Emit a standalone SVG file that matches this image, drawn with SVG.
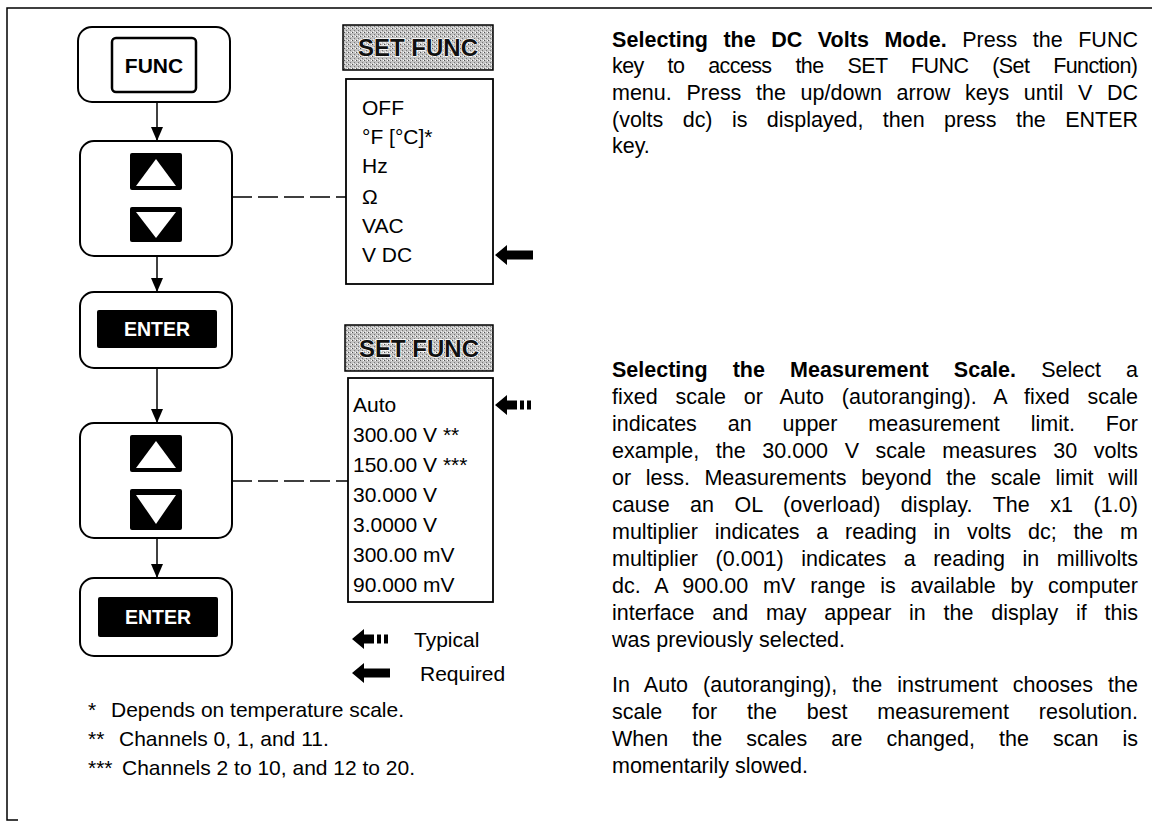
<svg xmlns="http://www.w3.org/2000/svg" width="1152" height="824" viewBox="0 0 1152 824">
<defs>
<pattern id="stip" width="4" height="4" patternUnits="userSpaceOnUse">
<rect width="4" height="4" fill="#c2c2c2"/>
<rect x="0" y="0" width="1" height="1" fill="#555"/>
<rect x="2" y="2" width="1" height="1" fill="#777"/>
<rect x="3" y="0" width="1" height="1" fill="#fff"/>
<rect x="1" y="3" width="1" height="1" fill="#eee"/>
</pattern>
<marker id="ah" markerWidth="14" markerHeight="12" refX="14" refY="6" orient="auto" markerUnits="userSpaceOnUse" viewBox="0 0 14 12">
<path d="M0,0 L14,6 L0,12 Z" fill="#000"/>
</marker>
<symbol id="reqArrow" viewBox="0 0 38 20" overflow="visible">
<path d="M0,10 L12,0 L12,5.5 L38,5.5 L38,14.5 L12,14.5 L12,20 Z" fill="#000"/>
</symbol>
<symbol id="typArrow" viewBox="0 0 38 20" overflow="visible">
<path d="M0,10 L12,0 L12,5.5 L22,5.5 L22,14.5 L12,14.5 L12,20 Z" fill="#000"/>
<rect x="25" y="5.5" width="4" height="9" fill="#000"/>
<rect x="32" y="5.5" width="4" height="9" fill="#000"/>
</symbol>
</defs>
<style>
.frame{fill:none;stroke:#000;stroke-width:1.5}
.outer{fill:#fff;stroke:#000;stroke-width:2}
.fkey{fill:#fff;stroke:#000;stroke-width:2.5}
.bkey{fill:#000}
.tri{fill:#fff}
.conn{stroke:#000;stroke-width:1.5;fill:none}
.dash{stroke:#000;stroke-width:1.5;stroke-dasharray:20 6;fill:none}
.hdr{fill:url(#stip);stroke:#000;stroke-width:1.5}
.menu{fill:#fff;stroke:#000;stroke-width:1.8}
.keyt{font-family:"Liberation Sans",Arial,sans-serif;font-weight:bold;font-size:19.5px;text-anchor:middle}
.hdrt{font-family:"Liberation Sans",Arial,sans-serif;font-weight:bold;font-size:24px;text-anchor:middle;fill:#111;stroke:#fff;stroke-width:1.4;paint-order:stroke}
.item{font-family:"Liberation Sans",Arial,sans-serif;font-size:21px;fill:#000}
.note{font-family:"Liberation Sans",Arial,sans-serif;font-size:21px;fill:#000}
.body{font-family:"Liberation Sans",Arial,sans-serif;font-size:21.5px;fill:#000}
.b{font-weight:bold}
</style>

<g id="frame">
<polyline class="frame" points="1152,8 7,8 7,820 18,820"/>
</g>

<g id="connectors">
<line class="conn" x1="157" y1="102" x2="157" y2="141" marker-end="url(#ah)"/>
<line class="conn" x1="157" y1="256" x2="157" y2="292" marker-end="url(#ah)"/>
<line class="conn" x1="157" y1="368" x2="157" y2="423" marker-end="url(#ah)"/>
<line class="conn" x1="157" y1="538" x2="157" y2="578" marker-end="url(#ah)"/>
<line class="dash" x1="232" y1="197" x2="346" y2="197"/>
<line class="dash" x1="232" y1="481" x2="348" y2="481"/>
</g>

<g id="node-func">
<rect class="outer" x="78" y="27" width="152" height="75" rx="14"/>
<rect class="fkey" x="112" y="38" width="84" height="54" rx="4"/>
<text class="keyt" x="154" y="73" style="font-size:21px">FUNC</text>
</g>

<g id="node-updown1">
<rect class="outer" x="80" y="141" width="152" height="115" rx="14"/>
<rect class="bkey" x="130" y="153" width="52" height="37" rx="2"/>
<path class="tri" d="M156,159 L176,186 L136,186 Z"/>
<rect class="bkey" x="130" y="207" width="52" height="35" rx="2"/>
<path class="tri" d="M136,212 L176,212 L156,238 Z"/>
</g>

<g id="node-enter1">
<rect class="outer" x="80" y="292" width="152" height="76" rx="14"/>
<rect class="bkey" x="97" y="310" width="120" height="38" rx="2"/>
<text class="keyt" x="157" y="336" fill="#fff">ENTER</text>
</g>

<g id="node-updown2">
<rect class="outer" x="80" y="423" width="152" height="115" rx="14"/>
<rect class="bkey" x="130" y="435" width="52" height="37" rx="2"/>
<path class="tri" d="M156,441 L176,468 L136,468 Z"/>
<rect class="bkey" x="130" y="489" width="52" height="41" rx="2"/>
<path class="tri" d="M136,495 L176,495 L156,524 Z"/>
</g>

<g id="node-enter2">
<rect class="outer" x="80" y="578" width="152" height="78" rx="14"/>
<rect class="bkey" x="98" y="597" width="120" height="40" rx="2"/>
<text class="keyt" x="158" y="624" fill="#fff">ENTER</text>
</g>

<g id="menu-setfunc1">
<rect class="hdr" x="343" y="25" width="150" height="45"/>
<text class="hdrt" x="418" y="56">SET FUNC</text>
<rect class="menu" x="346" y="79" width="147" height="205"/>
<text class="item" x="362" y="115">OFF</text>
<text class="item" x="362" y="144">°F [°C]*</text>
<text class="item" x="362" y="173">Hz</text>
<text class="item" x="362" y="204">Ω</text>
<text class="item" x="362" y="233">VAC</text>
<text class="item" x="362" y="262">V DC</text>
<use href="#reqArrow" x="495" y="245" width="38" height="20"/>
</g>

<g id="menu-setfunc2">
<rect class="hdr" x="345" y="325" width="148" height="46"/>
<text class="hdrt" x="419" y="357">SET FUNC</text>
<rect class="menu" x="348" y="378" width="145" height="224"/>
<text class="item" x="353" y="412">Auto</text>
<text class="item" x="353" y="442">300.00 V **</text>
<text class="item" x="353" y="472">150.00 V ***</text>
<text class="item" x="353" y="502">30.000 V</text>
<text class="item" x="353" y="532">3.0000 V</text>
<text class="item" x="353" y="562">300.00 mV</text>
<text class="item" x="353" y="592">90.000 mV</text>
<use href="#typArrow" x="495" y="395" width="38" height="20"/>
</g>

<g id="legend">
<use href="#typArrow" x="352" y="629" width="38" height="20"/>
<text class="note" x="414" y="647">Typical</text>
<use href="#reqArrow" x="352" y="663" width="38" height="20"/>
<text class="note" x="420" y="681">Required</text>
</g>

<g id="footnotes">
<text class="note" x="88" y="717">*<tspan x="111">Depends on temperature scale.</tspan></text>
<text class="note" x="88" y="746">**<tspan x="119">Channels 0, 1, and 11.</tspan></text>
<text class="note" x="88" y="775">***<tspan x="122">Channels 2 to 10, and 12 to 20.</tspan></text>
</g>

<g id="text-dcvolts">
<text class="body" x="612" y="47" word-spacing="9.4" textLength="526"><tspan class="b">Selecting the DC Volts Mode.</tspan> Press the FUNC</text>
<text class="body" x="612" y="73" word-spacing="18.6" textLength="526">key to access the SET FUNC (Set Function)</text>
<text class="body" x="612" y="100" word-spacing="8.7" textLength="526">menu. Press the up/down arrow keys until V DC</text>
<text class="body" x="612" y="127" word-spacing="13.4" textLength="526">(volts dc) is displayed, then press the ENTER</text>
<text class="body" x="612" y="153">key.</text>
</g>

<g id="text-scale">
<text class="body" x="612" y="377" word-spacing="19.2" textLength="526"><tspan class="b">Selecting the Measurement Scale.</tspan> Select a</text>
<text class="body" x="612" y="404" word-spacing="11.6" textLength="526">fixed scale or Auto (autoranging). A fixed scale</text>
<text class="body" x="612" y="431" word-spacing="24.9" textLength="526">indicates an upper measurement limit. For</text>
<text class="body" x="612" y="458" word-spacing="10.6" textLength="526">example, the 30.000 V scale measures 30 volts</text>
<text class="body" x="612" y="485" word-spacing="8.6" textLength="526">or less. Measurements beyond the scale limit will</text>
<text class="body" x="612" y="512" word-spacing="14.4" textLength="526">cause an OL (overload) display. The x1 (1.0)</text>
<text class="body" x="612" y="539" word-spacing="10.8" textLength="526">multiplier indicates a reading in volts dc; the m</text>
<text class="body" x="612" y="566" word-spacing="11.6" textLength="526">multiplier (0.001) indicates a reading in millivolts</text>
<text class="body" x="612" y="593" word-spacing="8.7" textLength="526">dc. A 900.00 mV range is available by computer</text>
<text class="body" x="612" y="620" word-spacing="11.8" textLength="526">interface and may appear in the display if this</text>
<text class="body" x="612" y="647">was previously selected.</text>
</g>

<g id="text-auto">
<text class="body" x="612" y="692" word-spacing="9.0" textLength="526">In Auto (autoranging), the instrument chooses the</text>
<text class="body" x="612" y="719" word-spacing="23.9" textLength="526">scale for the best measurement resolution.</text>
<text class="body" x="612" y="746" word-spacing="18.1" textLength="526">When the scales are changed, the scan is</text>
<text class="body" x="612" y="773">momentarily slowed.</text>
</g>
</svg>
